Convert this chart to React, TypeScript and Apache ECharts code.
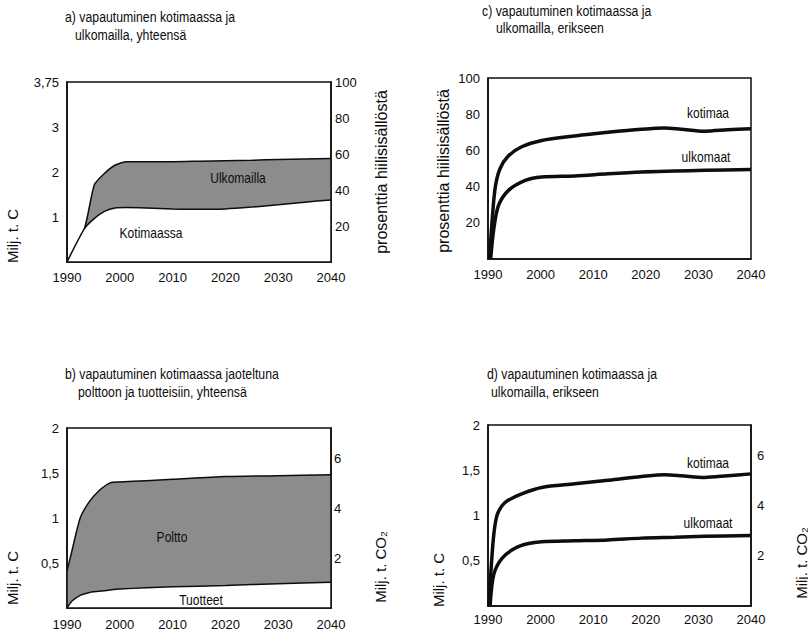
import React, { useEffect, useRef } from "react";
import * as echarts from "echarts";

// ---------- data ----------
const xTicks = [1990, 2000, 2010, 2020, 2030, 2040];

// a) total release, domestic + abroad (Milj. t. C)
const aYears = [1990, 1993.3, 1995.2, 1997.2, 1999.1, 2001.3, 2005, 2010, 2015, 2020, 2025, 2030, 2035, 2040];
const aKotimaassa = [0, 0.74, 0.97, 1.13, 1.2, 1.21, 1.2, 1.18, 1.17, 1.18, 1.22, 1.27, 1.33, 1.38];
const aYhteensa = [0, 0.74, 1.72, 1.98, 2.15, 2.23, 2.23, 2.23, 2.24, 2.25, 2.26, 2.28, 2.29, 2.3];

// b) domestic release split into burning and products (Milj. t. C)
const bYears = [1990, 1991, 1992.5, 1994.1, 1996, 1998.2, 2000, 2005, 2010, 2020, 2030, 2040];
const bTuotteet = [0, 0.08, 0.14, 0.17, 0.185, 0.2, 0.21, 0.225, 0.235, 0.25, 0.27, 0.285];
const bYhteensa = [0.41, 0.65, 1.0, 1.17, 1.3, 1.39, 1.4, 1.415, 1.43, 1.46, 1.47, 1.48];

// c) separately, percent of carbon content
const cKotimaaYears = [1990.3, 1990.8, 1991.4, 1992.3, 1993.9, 1996.4, 2000.2, 2006.5, 2012.8, 2019.2, 2023.6, 2026.7, 2031.2, 2035.6, 2040];
const cKotimaa = [0, 22, 40, 50, 57, 62, 65.5, 68, 70, 71.7, 72.4, 71.7, 70.6, 71.4, 72];
const cUlkoYears = [1990.5, 1991.1, 1992, 1993.9, 1997.1, 2000.2, 2006.5, 2012.8, 2019.2, 2025.5, 2031.2, 2040];
const cUlkomaat = [0, 16.6, 29.6, 37.9, 43.4, 45.3, 45.9, 47.1, 48.1, 48.6, 49, 49.5];

// d) separately, Milj. t. C
const dKotimaaYears = [1990.2, 1990.6, 1991.1, 1991.7, 1992.7, 1993.9, 1996.4, 2000.2, 2006.5, 2012.8, 2019.2, 2023.6, 2026.7, 2031.2, 2035.6, 2040];
const dKotimaa = [0, 0.42, 0.79, 1.0, 1.11, 1.17, 1.24, 1.31, 1.35, 1.39, 1.43, 1.45, 1.44, 1.42, 1.44, 1.46];
const dUlkoYears = [1990.4, 1991.1, 1992.7, 1995.2, 1997.7, 2000.2, 2006.5, 2012.8, 2019.2, 2025.5, 2031.2, 2040];
const dUlkomaat = [0, 0.35, 0.53, 0.64, 0.69, 0.71, 0.72, 0.73, 0.75, 0.76, 0.77, 0.78];

// tick label values
const aLeftTicks = [1, 2, 3];
const aLeftTopLabel = "3,75";

// ---------- style ----------
const INK = "#0d0d0d";
const FILL = "#8c8c8c";
const SANS = "'Liberation Sans', Arial, sans-serif";

const zip = (xs: number[], ys: number[]) => xs.map((x, i) => [x, ys[i]]);
const comma = (v: number) => String(v).replace(".", ",");

function xAxis(gridIndex: number, margin: number) {
  return {
    type: "value",
    gridIndex,
    min: xTicks[0],
    max: xTicks[xTicks.length - 1],
    interval: 10,
    z: 10,
    axisLine: { show: true, lineStyle: { color: INK, width: 1.5 } },
    axisTick: { show: false },
    splitLine: { show: false },
    axisLabel: {
      color: INK, fontSize: 13, fontFamily: SANS, margin,
      formatter: (v: number) => String(v),
      showMinLabel: true, showMaxLabel: true,
    },
  };
}

function yAxis(gridIndex: number, position: string, min: number, max: number, interval: number, formatter: (v: number) => string, margin: number, pad = 0) {
  return {
    type: "value",
    gridIndex,
    position,
    min,
    max,
    interval,
    z: 10,
    axisLine: { show: true, lineStyle: { color: INK, width: 1.5 } },
    axisTick: { show: false },
    splitLine: { show: false },
    axisLabel: {
      color: INK,
      fontSize: 13,
      fontFamily: SANS,
      margin,
      formatter,
      padding: [pad, 0, 0, 0],
      showMinLabel: true,
      showMaxLabel: true,
    },
  };
}

function txt(text: string, x: number, y: number, opts: any = {}) {
  return {
    type: "text",
    x,
    y,
    rotation: opts.rotation || 0,
    scaleX: opts.sx || 1,
    silent: true,
    style: {
      text,
      fill: INK,
      font: opts.font || `14px ${SANS}`,
      textAlign: opts.align || "left",
      textVerticalAlign: "middle",
    },
  };
}

const TITLE = { font: `15px ${SANS}`, sx: 0.82 };
const INPLOT = { font: `14px ${SANS}`, sx: 0.86, align: "center" };

export default function App() {
  const ref = useRef<HTMLDivElement>(null);

  useEffect(() => {
    if (!ref.current) return;
    const chart = echarts.init(ref.current, null, { renderer: "svg" });

    const lineBase = { type: "line", symbol: "none", showSymbol: false };

    const option: any = {
      animation: false,
      backgroundColor: "#ffffff",
      grid: [
        { left: 67, top: 82, width: 264, height: 180, show: true, borderColor: INK, borderWidth: 1.5 },
        { left: 67, top: 428, width: 264, height: 180, show: true, borderColor: INK, borderWidth: 1.5 },
        { left: 488, top: 78, width: 263, height: 181, show: true, borderColor: INK, borderWidth: 1.5 },
        { left: 488, top: 425, width: 263, height: 181, show: true, borderColor: INK, borderWidth: 1.5 },
      ],
      xAxis: [xAxis(0, 9), xAxis(1, 10), xAxis(2, 9), xAxis(3, 7)],
      yAxis: [
        yAxis(0, "left", 0, 4, 1, (v) => (v === 4 ? aLeftTopLabel : aLeftTicks.includes(v) ? String(v) : ""), 8, 5),
        yAxis(0, "right", 0, 100, 20, (v) => (v === 0 ? "" : String(v)), 4),
        yAxis(1, "left", 0, 2, 0.5, (v) => (v === 0 ? "" : comma(v)), 8, 8),
        yAxis(1, "right", 0, 7.2, 2, (v) => (v === 0 || v > 7 ? "" : String(v)), 3),
        yAxis(2, "left", 0, 100, 20, (v) => (v === 0 ? "" : String(v)), 8, 5),
        yAxis(3, "left", 0, 2, 0.5, (v) => (v === 0 ? "" : comma(v)), 8, 8),
        yAxis(3, "right", 0, 7.2, 2, (v) => (v === 0 || v > 7 ? "" : String(v)), 6),
      ],
      series: [
        // a: total (grey band top) then domestic (white below)
        {
          ...lineBase, name: "Ulkomailla (yhteensä)", xAxisIndex: 0, yAxisIndex: 0, z: 2,
          smooth: 0.2,
          lineStyle: { color: INK, width: 1.5 },
          areaStyle: { color: FILL, opacity: 1 },
          data: zip(aYears, aYhteensa),
        },
        {
          ...lineBase, name: "Kotimaassa", xAxisIndex: 0, yAxisIndex: 0, z: 3,
          smooth: 0.2,
          lineStyle: { color: INK, width: 1.5 },
          areaStyle: { color: "#ffffff", opacity: 1 },
          data: zip(aYears, aKotimaassa),
        },
        // b
        {
          ...lineBase, name: "Poltto (yhteensä)", xAxisIndex: 1, yAxisIndex: 2, z: 2,
          smooth: 0.25,
          lineStyle: { color: INK, width: 1.5 },
          areaStyle: { color: FILL, opacity: 1 },
          data: zip(bYears, bYhteensa),
        },
        {
          ...lineBase, name: "Tuotteet", xAxisIndex: 1, yAxisIndex: 2, z: 3,
          smooth: 0.25,
          lineStyle: { color: INK, width: 1.5 },
          areaStyle: { color: "#ffffff", opacity: 1 },
          data: zip(bYears, bTuotteet),
        },
        // c
        {
          ...lineBase, name: "kotimaa c", xAxisIndex: 2, yAxisIndex: 4,
          smooth: 0.3,
          lineStyle: { color: INK, width: 3.5 },
          data: zip(cKotimaaYears, cKotimaa),
        },
        {
          ...lineBase, name: "ulkomaat c", xAxisIndex: 2, yAxisIndex: 4,
          smooth: 0.3,
          lineStyle: { color: INK, width: 3.5 },
          data: zip(cUlkoYears, cUlkomaat),
        },
        // d
        {
          ...lineBase, name: "kotimaa d", xAxisIndex: 3, yAxisIndex: 5,
          smooth: 0.3,
          lineStyle: { color: INK, width: 3.5 },
          data: zip(dKotimaaYears, dKotimaa),
        },
        {
          ...lineBase, name: "ulkomaat d", xAxisIndex: 3, yAxisIndex: 5,
          smooth: 0.3,
          lineStyle: { color: INK, width: 3.5 },
          data: zip(dUlkoYears, dUlkomaat),
        },
      ],
      graphic: [
        // titles
        txt("a) vapautuminen kotimaassa ja", 65, 17, TITLE),
        txt("ulkomailla, yhteensä", 75, 35, TITLE),
        txt("c) vapautuminen kotimaassa ja", 482, 11, TITLE),
        txt("ulkomailla, erikseen", 496, 28, TITLE),
        txt("b) vapautuminen kotimaassa jaoteltuna", 65, 374, TITLE),
        txt("polttoon ja tuotteisiin, yhteensä", 78, 392, TITLE),
        txt("d) vapautuminen kotimaassa ja", 487, 374, TITLE),
        txt("ulkomailla, erikseen", 491, 392, TITLE),
        // axis names
        txt("Milj. t. C", 12, 236, { rotation: Math.PI / 2, align: "center", font: `15px ${SANS}` }),
        txt("prosenttia hiilisisällöstä", 381, 172, { rotation: Math.PI / 2, align: "center", font: `16px ${SANS}` }),
        txt("prosenttia hiilisisällöstä", 443, 171, { rotation: Math.PI / 2, align: "center", font: `16px ${SANS}` }),
        txt("Milj. t. C", 12, 578, { rotation: Math.PI / 2, align: "center", font: `15px ${SANS}` }),
        txt("Milj. t. CO₂", 380, 567, { rotation: Math.PI / 2, align: "center", font: `15px ${SANS}` }),
        txt("Milj. t. C", 438, 580, { rotation: Math.PI / 2, align: "center", font: `15px ${SANS}` }),
        txt("Milj. t. CO₂", 801, 563, { rotation: Math.PI / 2, align: "center", font: `15px ${SANS}` }),
        // in-plot labels
        { ...txt("Ulkomailla", 238, 178, INPLOT), z: 20 },
        { ...txt("Kotimaassa", 151, 233, INPLOT), z: 20 },
        { ...txt("Poltto", 172, 537, INPLOT), z: 20 },
        { ...txt("Tuotteet", 201, 600, INPLOT), z: 20 },
        txt("kotimaa", 708, 113, INPLOT),
        txt("ulkomaat", 706, 157, INPLOT),
        txt("kotimaa", 708, 463, INPLOT),
        txt("ulkomaat", 708, 523, INPLOT),
      ],
    };

    chart.setOption(option);
    return () => chart.dispose();
  }, []);

  return (
    <div
      ref={ref}
      style={{ position: "fixed", left: 0, top: 0, width: 808, height: 631, background: "#fff" }}
    />
  );
}
